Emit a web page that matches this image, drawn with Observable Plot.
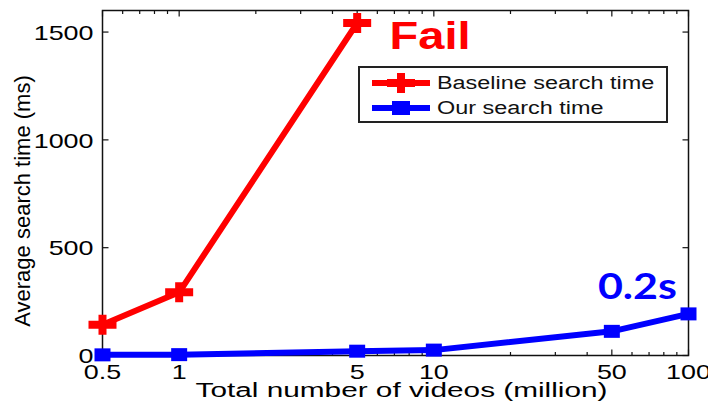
<!DOCTYPE html>
<html><head><meta charset="utf-8">
<script src="https://cdn.jsdelivr.net/npm/d3@7"></script>
<script src="https://cdn.jsdelivr.net/npm/@observablehq/plot@0.6"></script>
<style>
body{margin:0;background:#fff;}
#wrap{position:relative;width:708px;height:402px;overflow:hidden;font-family:"Liberation Sans",Arial,sans-serif;background:#fff;}
#legend{position:absolute;left:358px;top:66px;width:306px;height:53px;border:2px solid #222;background:#fff;}
.row{position:absolute;left:0;height:20px;width:300px;}
.row svg{position:absolute;left:12px;top:0;}
.row span{position:absolute;left:77px;top:0;font-size:18px;line-height:20px;transform:scaleX(1.3);transform-origin:0 50%;white-space:nowrap;color:#111;}
</style></head>
<body><div id="wrap"><div id="legend"></div></div>
<script>
// ---- data ----
const videos = [0.5, 1, 5, 10, 50, 100];          // total number of videos (million)
const baselineMs = [143, 293, 1542];              // baseline (fails beyond 5M)
const oursMs = [3, 4, 20, 25, 112, 193];          // our search time
const xTicks = [0.5, 1, 5, 10, 50, 100];
const xTickLabels = ["0.5", "1", "5", "10", "50", "100"];
const xMinorTicks = [0.6, 0.7, 0.8, 0.9, 2, 3, 4, 6, 7, 8, 9, 20, 30, 40, 60, 70, 80, 90];
const yTicks = [0, 500, 1000, 1500];
const yTickLabels = ["0", "500", "1000", "1500"];
const seriesNames = ["Baseline search time", "Our search time"];
const seriesColors = ["#ff0000", "#0000ff"];
const noteTexts = ["Fail", "0.2s"];
const noteX = [6.7, 63];
const noteY = [1480, 318];
const xLabel = "Total number of videos (million)";
const yLabel = "Average search time (ms)";

const baseline = baselineMs.map((v, i) => ({x: videos[i], y: v}));
const ours = oursMs.map((v, i) => ({x: videos[i], y: v}));

const plusSym = {draw(c) {
  const a = 14, b = 10, t = 4;
  c.moveTo(-a, -t); c.lineTo(-t, -t); c.lineTo(-t, -b); c.lineTo(t, -b); c.lineTo(t, -t);
  c.lineTo(a, -t); c.lineTo(a, t); c.lineTo(t, t); c.lineTo(t, b); c.lineTo(-t, b);
  c.lineTo(-t, t); c.lineTo(-a, t); c.closePath();
}};
const squareSym = {draw(c) { c.rect(-8, -6.5, 16, 13); }};
const tickSym = (dx, dy) => ({draw(c) { c.moveTo(0, 0); c.lineTo(dx, dy); }});

const tickStyle = {stroke: "#111", fill: "none", strokeWidth: 1.2};

const chart = Plot.plot({
  width: 708, height: 402,
  marginLeft: 102, marginRight: 20, marginTop: 10, marginBottom: 47,
  style: {fontFamily: "'Liberation Sans', Arial, sans-serif", background: "#fff", color: "#000"},
  x: {type: "log", domain: [0.5, 100], axis: null},
  y: {domain: [0, 1600], axis: null},
  marks: [
    // inward ticks
    Plot.dot(xTicks, {x: d => d, frameAnchor: "bottom", symbol: tickSym(0, -6), ...tickStyle}),
    Plot.dot(xTicks, {x: d => d, frameAnchor: "top", symbol: tickSym(0, 6), ...tickStyle}),
    Plot.dot(xMinorTicks, {x: d => d, frameAnchor: "bottom", symbol: tickSym(0, -3.5), ...tickStyle}),
    Plot.dot(xMinorTicks, {x: d => d, frameAnchor: "top", symbol: tickSym(0, 3.5), ...tickStyle}),
    Plot.dot(yTicks, {y: d => d, frameAnchor: "left", symbol: tickSym(6, 0), ...tickStyle}),
    Plot.dot(yTicks, {y: d => d, frameAnchor: "right", symbol: tickSym(-6, 0), ...tickStyle}),
    // tick labels
    Plot.text(xTicks, {x: d => d, text: (d, i) => xTickLabels[i], frameAnchor: "bottom", textAnchor: "middle", lineAnchor: "top", dy: 9, fontSize: 21, fill: "#000"}),
    Plot.text(yTicks, {y: d => d, text: (d, i) => yTickLabels[i], frameAnchor: "left", textAnchor: "end", lineAnchor: "middle", dx: -9, dy: 1, fontSize: 21, fill: "#000"}),
    Plot.frame({stroke: "#111", strokeWidth: 1.5}),
    // axis titles
    Plot.text([xLabel], {text: d => d, frameAnchor: "bottom", textAnchor: "middle", lineAnchor: "middle", dx: 6, dy: 35, fontSize: 20, fill: "#000"}),
    Plot.text([yLabel], {text: d => d, frameAnchor: "left", textAnchor: "middle", lineAnchor: "middle", rotate: -90, dx: -80, dy: 18, fontSize: 22, fill: "#000"}),
    // series
    Plot.line(baseline, {x: "x", y: "y", stroke: seriesColors[0], strokeWidth: 6, strokeLinejoin: "round"}),
    Plot.dot(baseline, {x: "x", y: "y", symbol: plusSym, fill: seriesColors[0], stroke: "none", r: 5}),
    Plot.line(ours, {x: "x", y: "y", stroke: seriesColors[1], strokeWidth: 6, strokeLinejoin: "round"}),
    Plot.dot(ours, {x: "x", y: "y", symbol: squareSym, fill: seriesColors[1], stroke: "none", r: 5}),
    // annotations
    Plot.text([0], {x: i => noteX[i], y: i => noteY[i], text: i => noteTexts[i], textAnchor: "start", lineAnchor: "middle", fontSize: 39, fontWeight: "bold", fill: seriesColors[0]}),
    Plot.text([1], {x: i => noteX[i], y: i => noteY[i], text: i => noteTexts[i], textAnchor: "middle", lineAnchor: "middle", fontSize: 37, fontWeight: "bold", fontFamily: "Lato, 'Open Sans', sans-serif", fill: seriesColors[1]})
  ]
});

const wrap = document.getElementById("wrap");
wrap.insertBefore(chart, wrap.firstChild);

// horizontal stretch of texts to mimic the reference's wide glyphs
const fixedLengths = new Map([[xLabel, 412], ["Fail", 81], ["0.2s", 79]]);
const stretchK = new Set([...xTickLabels, ...yTickLabels]);
chart.querySelectorAll("text").forEach(t => {
  const s = t.textContent;
  let L = null;
  if (fixedLengths.has(s)) L = fixedLengths.get(s);
  else if (stretchK.has(s)) L = t.getComputedTextLength() * 1.28;
  if (L != null) {
    t.setAttribute("textLength", L);
    t.setAttribute("lengthAdjust", "spacingAndGlyphs");
  }
});

// legend
const legend = d3.select("#legend");
const rowTops = [5, 30];
seriesNames.forEach((name, i) => {
  const row = legend.append("div").attr("class", "row").style("top", rowTops[i] + "px");
  const s = row.append("svg").attr("width", 60).attr("height", 20);
  s.append("line").attr("x1", 0).attr("x2", 58).attr("y1", 10).attr("y2", 10)
    .attr("stroke", seriesColors[i]).attr("stroke-width", 6);
  const g = s.append("g").attr("transform", "translate(29,10)");
  if (i === 0) {
    g.append("path").attr("d", "M-14,-4H-4V-11H4V-4H14V4H4V11H-4V4H-14Z").attr("fill", seriesColors[i]);
  } else {
    g.append("rect").attr("x", -9).attr("y", -7).attr("width", 18).attr("height", 14).attr("fill", seriesColors[i]);
  }
  row.append("span").text(name);
});
</script>
</body></html>
